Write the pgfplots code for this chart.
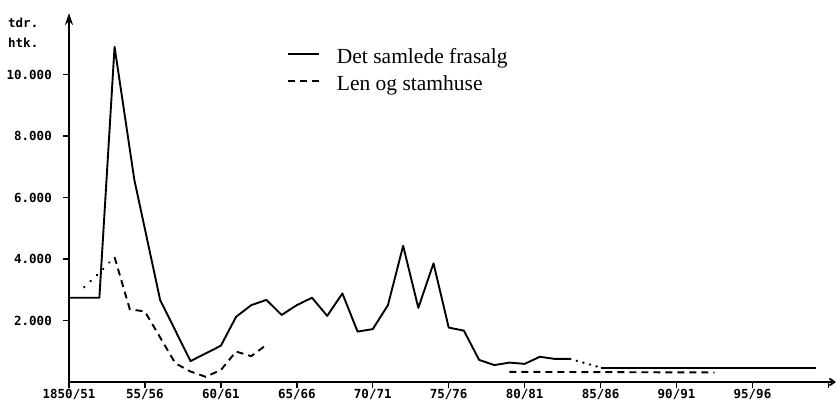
\documentclass[border=0pt]{standalone}
\usepackage{fontspec}
\setmainfont{Liberation Serif}
\newfontfamily\tickfont{DejaVu Sans Mono}
\usepackage{pgfplots}
\pgfplotsset{compat=1.18}
\usetikzlibrary{arrows.meta}
\begin{document}
\begin{tikzpicture}
\useasboundingbox (0,0) rectangle (837pt,402pt);
\begin{axis}[
  at={(69pt,20pt)}, anchor=south west,
  scale only axis, width=767pt, height=369pt,
  xmin=1850, xmax=1900.5, ymin=0, ymax=12000,
  scaled y ticks=false, scaled x ticks=false,
  axis lines=left,
  axis line style={line width=1.8pt},
  x axis line style={-{Straight Barb[length=5pt,width=7pt]}},
  y axis line style={-{Stealth[length=12pt,width=8pt]}},
  tick align=outside, major tick length=6pt,
  tick style={line width=1.4pt, black},
  xtick={1850,1855,...,1900},
  xticklabels={1850/51,55/56,60/61,65/66,70/71,75/76,80/81,85/86,90/91,95/96,},
  ytick={2000,4000,...,10000},
  yticklabels={2.000,4.000,6.000,8.000,10.000},
  tick label style={font=\tickfont\bfseries\fontsize{12.5}{14}\selectfont},
  xticklabel style={inner sep=1pt},
  yticklabel style={inner sep=0pt, xshift=-11pt},
  clip=false,
  legend cell align=left,
  legend image code/.code={\draw[#1] (0pt,3pt) -- (31pt,3pt);},
  legend style={draw=none, fill=none, inner sep=0pt, at={(rel axis cs:0.284,0.905)}, anchor=north west,
    font=\fontsize{21.5}{25}\selectfont, row sep=11pt,
    nodes={inner sep=0pt},
    /tikz/every odd column/.append style={column sep=17pt}},
]
% Det samlede frasalg
\addplot[black, line width=1.9pt, line join=round] coordinates {
(1850,2740) (1852,2740) (1853,10900) (1854.3,6580) (1856,2670) (1858,680)
(1860,1180) (1861,2120) (1862,2500) (1863,2670) (1864,2180) (1865,2500)
(1866,2740) (1867,2150) (1868,2880) (1869,1640) (1870,1720) (1871,2500)
(1872,4430) (1873,2410) (1874,3860) (1875,1770) (1876,1670) (1877,720)
(1878,550) (1879,630) (1880,590) (1881,820) (1882,750) (1883,750)
};
\addlegendentry{Det samlede frasalg}
% Len og stamhuse
\addplot[black, line width=1.9pt, dash pattern=on 7pt off 5pt] coordinates {
(1853,4060) (1854,2370) (1855,2290) (1856,1450) (1857,610) (1858,340)
(1859,170) (1860,390) (1861,990) (1862,840) (1863,1210)
};
\addlegendentry{Len og stamhuse}
\addplot[black, line width=2.4pt, line cap=round, dash pattern=on 0.3pt off 8.5pt, forget plot] coordinates {
(1851,3080) (1852,3550) (1853,4060)
};
\addplot[black, line width=1.9pt, dash pattern=on 7pt off 5pt, forget plot] coordinates {
(1879,330) (1892.5,310)
};
\addplot[black, line width=2.4pt, line cap=round, dash pattern=on 0.3pt off 6.5pt, forget plot] coordinates {
(1883,750) (1885,470)
};
\addplot[black, line width=1.9pt, forget plot] coordinates {
(1885,470) (1899.2,470)
};
\end{axis}
\node[anchor=west, inner sep=0pt, font=\tickfont\bfseries\fontsize{12.5}{14}\selectfont] at (8pt,379pt) {tdr.};
\node[anchor=west, inner sep=0pt, font=\tickfont\bfseries\fontsize{12.5}{14}\selectfont] at (8pt,359pt) {htk.};
\end{tikzpicture}
\end{document}
